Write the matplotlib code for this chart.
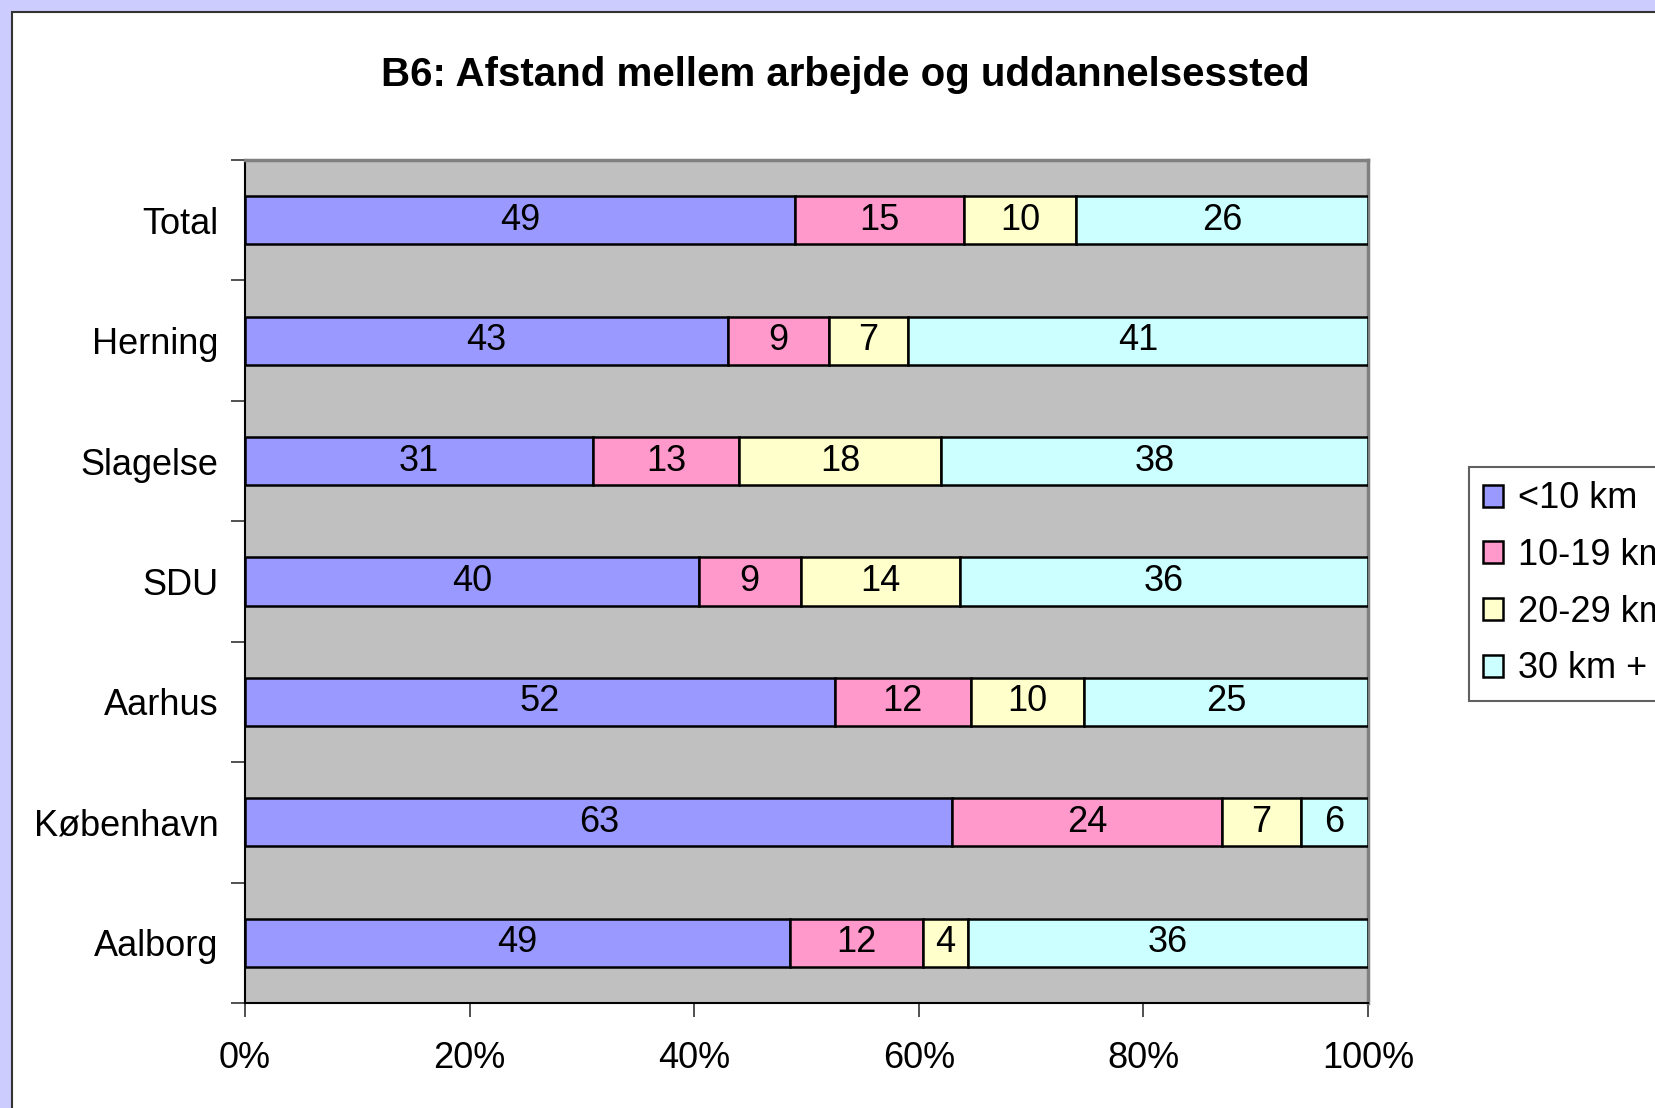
import numpy as np
import matplotlib.pyplot as plt
from matplotlib.patches import Rectangle

plt.rcParams['font.family'] = ['Liberation Sans', 'DejaVu Sans']

# data (percent, as labelled)
steder = ['Total', 'Herning', 'Slagelse', 'SDU', 'Aarhus', 'København', 'Aalborg']
under10 = [49, 43, 31, 40, 52, 63, 49]
km10_19 = [15, 9, 13, 9, 12, 24, 12]
km20_29 = [10, 7, 18, 14, 10, 7, 4]
km30 = [26, 41, 38, 36, 25, 6, 36]
serier = ['<10 km', '10-19 km', '20-29 km', '30 km +']
farver = ['#9999FF', '#FF99CC', '#FFFFCC', '#CCFFFF']

vals = np.array([under10, km10_19, km20_29, km30], dtype=float)
andel = vals / vals.sum(axis=0) * 100

fig = plt.figure(figsize=(16.55, 11.08), dpi=100, facecolor='#CCCCFF')
# white chart area with dark frame (runs off right/bottom edge)
fig.patches.append(Rectangle((12/1655, -0.1), 1.2, 1.1 - 12/1108,
                             transform=fig.transFigure, facecolor='white',
                             edgecolor='#333333', lw=1.5, zorder=-1))

ax = fig.add_axes([245/1655, 1 - 1003/1108, (1368-245)/1655, (1003-160)/1108])
ax.set_facecolor('#C0C0C0')

fs = 26
y = np.arange(len(steder))
venstre = np.zeros(len(steder))
for i in range(4):
    ax.barh(y, andel[i], left=venstre, height=0.4, color=farver[i],
            edgecolor='black', lw=1.8, label=serier[i], zorder=3)
    for j in range(len(steder)):
        ax.text(venstre[j] + andel[i][j] / 2, y[j], '%d' % vals[i][j],
                ha='center', va='center', fontsize=fs, zorder=4)
    venstre += andel[i]

ax.set_xlim(0, 100)
ax.set_ylim(len(steder) - 0.5, -0.5)
ax.set_xticks(np.arange(0, 101, 20))
ax.set_xticklabels(['%d%%' % v for v in range(0, 101, 20)], fontsize=fs)
ax.set_yticks(y)
ax.set_yticklabels(steder, fontsize=fs)
ax.set_yticks(np.arange(len(steder) + 1) - 0.5, minor=True)
ax.tick_params(axis='y', which='major', length=0, pad=19)
ax.tick_params(axis='y', which='minor', length=10, color='#333333', width=1.2)
ax.tick_params(axis='x', length=10, color='#333333', width=1.2, pad=17)

for s in ['top', 'right']:
    ax.spines[s].set_color('#808080')
    ax.spines[s].set_linewidth(2.5)
for s in ['left', 'bottom']:
    ax.spines[s].set_color('black')
    ax.spines[s].set_linewidth(1.5)

fig.text(0.511, 0.932, 'B6: Afstand mellem arbejde og uddannelsessted',
         ha='center', va='center', fontsize=29, fontweight='bold')

leg = fig.legend(loc='upper left', bbox_to_anchor=(1469/1655, 1 - 467/1108),
                 borderaxespad=0, fontsize=fs, frameon=True, fancybox=False,
                 framealpha=1, edgecolor='#606060', handlelength=0.55,
                 handleheight=0.55, handletextpad=0.4, labelspacing=0.6,
                 borderpad=0.4)
leg.get_frame().set_linewidth(1.5)

fig.savefig('out.png', dpi=100, facecolor=fig.get_facecolor())
